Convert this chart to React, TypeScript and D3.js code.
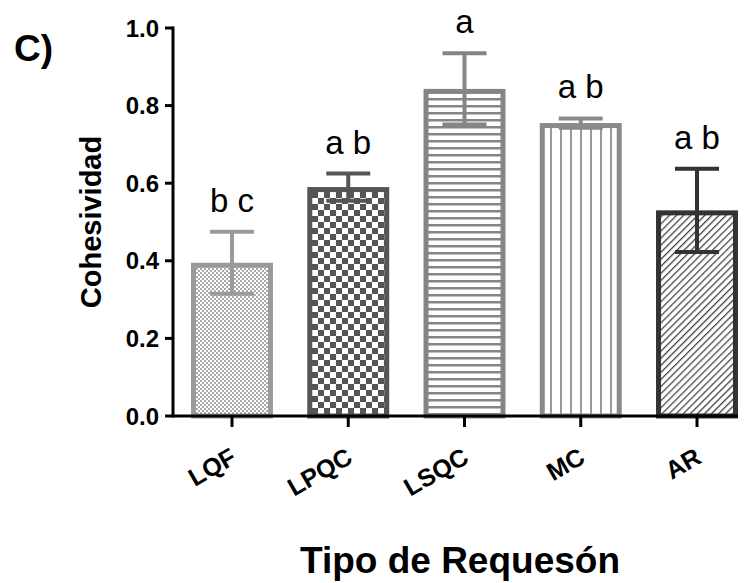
import React from 'react';
import * as d3 from 'd3';

// data
const tipos = ['LQF', 'LPQC', 'LSQC', 'MC', 'AR'];
const medias = [0.395, 0.59, 0.843, 0.755, 0.53];
const errores = [0.08, 0.035, 0.092, 0.012, 0.107];
const letras = ['b c', 'a b', 'a', 'a b', 'a b'];
const yTicks = [0.0, 0.2, 0.4, 0.6, 0.8, 1.0];

const colores = ['#9a9a9a', '#555555', '#858585', '#8a8a8a', '#333333'];
const patrones = ['pDots', 'pCheck', 'pHoriz', 'pVert', 'pDiag'];

const W = 745, H = 583;
const margin = { top: 28, left: 173, right: 7, bottom: 167 };

export default function App() {
  const x = d3.scaleBand()
    .domain(tipos)
    .range([margin.left, 756])
    .paddingInner(0.295)
    .paddingOuter(0.155);
  const y = d3.scaleLinear().domain([0, 1]).range([H - margin.bottom, margin.top]);
  const y0 = y(0);
  const font = 'Arial, "Liberation Sans", sans-serif';

  return (
    <svg width={W} height={H} style={{ position: 'absolute', left: 0, top: 0, background: '#fff' }}>
      <defs>
        <pattern id="pDots" width="4" height="4" patternUnits="userSpaceOnUse">
          <rect width="4" height="4" fill="#fff" />
          <rect width="2" height="2" fill="#aaa" />
          <rect x="2" y="2" width="2" height="2" fill="#aaa" />
        </pattern>
        <pattern id="pCheck" width="12" height="12" patternUnits="userSpaceOnUse">
          <rect width="12" height="12" fill="#fff" />
          <rect width="6" height="6" fill="#555" />
          <rect x="6" y="6" width="6" height="6" fill="#555" />
        </pattern>
        <pattern id="pHoriz" width="7" height="7" patternUnits="userSpaceOnUse">
          <rect width="7" height="7" fill="#fff" />
          <rect y="0" width="7" height="2.5" fill="#858585" />
        </pattern>
        <pattern id="pVert" width="10" height="10" patternUnits="userSpaceOnUse">
          <rect width="10" height="10" fill="#fff" />
          <rect x="0" width="2" height="10" fill="#999" />
        </pattern>
        <pattern id="pDiag" width="5" height="5" patternUnits="userSpaceOnUse" patternTransform="rotate(45)">
          <rect width="5" height="5" fill="#fff" />
          <rect width="1.3" height="5" fill="#444" />
        </pattern>
      </defs>

      {/* bars */}
      {tipos.map((t, i) => {
        const bx = x(t)!;
        const bw = x.bandwidth();
        const top = y(medias[i]);
        const cx = bx + bw / 2;
        return (
          <g key={t}>
            <rect x={bx + 2.5} y={top + 2.5} width={bw - 5} height={y0 - top - 2.5}
              fill={`url(#${patrones[i]})`} stroke={colores[i]} strokeWidth={5} />
            <line x1={cx} x2={cx} y1={y(medias[i] + errores[i])} y2={y(medias[i] - errores[i])}
              stroke={colores[i]} strokeWidth={4} />
            <line x1={cx - 22} x2={cx + 22} y1={y(medias[i] + errores[i])} y2={y(medias[i] + errores[i])}
              stroke={colores[i]} strokeWidth={4} />
            <line x1={cx - 22} x2={cx + 22} y1={y(medias[i] - errores[i])} y2={y(medias[i] - errores[i])}
              stroke={colores[i]} strokeWidth={4} />
            <text x={cx} y={y(medias[i] + errores[i]) - 20} textAnchor="middle"
              fontFamily={font} fontSize={33} fill="#000">{letras[i]}</text>
          </g>
        );
      })}

      {/* y axis */}
      <line x1={margin.left} x2={margin.left} y1={y(1) - 1.5} y2={y0 + 1.5} stroke="#000" strokeWidth={3} />
      {yTicks.map(v => (
        <g key={v}>
          <line x1={margin.left - 8} x2={margin.left} y1={y(v)} y2={y(v)} stroke="#000" strokeWidth={3} />
          <text x={margin.left - 14} y={y(v)} dy="0.36em" textAnchor="end"
            fontFamily={font} fontWeight="bold" fontSize={24} fill="#000">{v.toFixed(1)}</text>
        </g>
      ))}

      {/* x axis */}
      <line x1={margin.left} x2={W - margin.right} y1={y0} y2={y0} stroke="#000" strokeWidth={3} />
      {tipos.map(t => {
        const cx = x(t)! + x.bandwidth() / 2;
        return (
          <g key={t}>
            <line x1={cx} x2={cx} y1={y0} y2={y0 + 11} stroke="#000" strokeWidth={3} />
            <text transform={`translate(${cx + 6},${y0 + 46}) rotate(-30)`} textAnchor="end"
              fontFamily={font} fontWeight="bold" fontSize={25} fill="#000">{t}</text>
          </g>
        );
      })}

      {/* titles */}
      <text x={14} y={61} fontFamily={font} fontWeight="bold" fontSize={37} fill="#000">C)</text>
      <text transform={`translate(101,${(y(1) + y0) / 2}) rotate(-90)`} textAnchor="middle"
        fontFamily={font} fontWeight="bold" fontSize={29} fill="#000">Cohesividad</text>
      <text x={460} y={573} textAnchor="middle" fontFamily={font} fontWeight="bold" fontSize={37} fill="#000">Tipo de Requesón</text>
    </svg>
  );
}
